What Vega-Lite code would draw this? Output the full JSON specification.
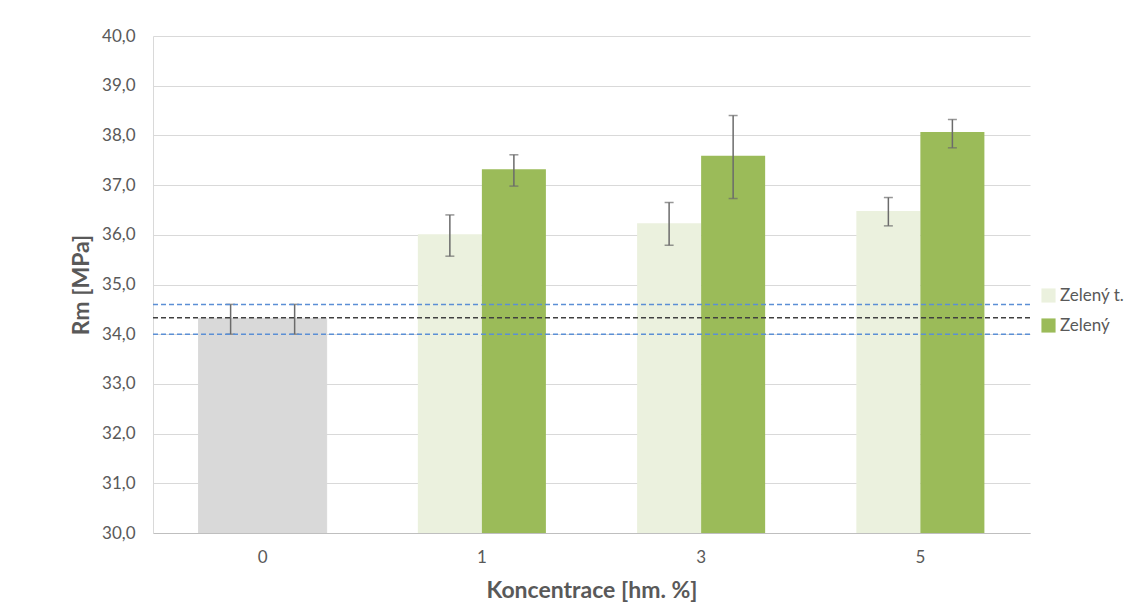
{
  "$schema": "https://vega.github.io/schema/vega-lite/v6.json",
  "width": 877,
  "height": 497,
  "autosize": {"type": "none"},
  "padding": {"left": 153, "top": 36, "right": 100, "bottom": 77},
  "background": "white",
  "config": {
    "font": "Lato",
    "view": {"stroke": null},
    "axis": {"labelColor": "#595959", "titleColor": "#595959", "labelFont": "Lato", "titleFont": "Lato", "labelFontSize": 17, "labelOverlap": false}
  },
  "datasets": {
    "bars": [
      {"k": "0", "series": "Zelený t.", "v": 34.32, "lo": 34.0, "hi": 34.6},
      {"k": "0", "series": "Zelený", "v": 34.32, "lo": 34.0, "hi": 34.6},
      {"k": "1", "series": "Zelený t.", "v": 36.01, "lo": 35.57, "hi": 36.4},
      {"k": "1", "series": "Zelený", "v": 37.32, "lo": 36.98, "hi": 37.61},
      {"k": "3", "series": "Zelený t.", "v": 36.23, "lo": 35.79, "hi": 36.65},
      {"k": "3", "series": "Zelený", "v": 37.59, "lo": 36.73, "hi": 38.4},
      {"k": "5", "series": "Zelený t.", "v": 36.48, "lo": 36.18, "hi": 36.75},
      {"k": "5", "series": "Zelený", "v": 38.07, "lo": 37.75, "hi": 38.32}
    ],
    "mean": [{"v": 34.33}],
    "band": [{"v": 34.6}, {"v": 34.0}]
  },
  "encoding": {
    "x": {
      "field": "k", "type": "nominal", "sort": ["0", "1", "3", "5"],
      "scale": {"paddingInner": 0.416, "paddingOuter": 0.208},
      "axis": {
        "title": "Koncentrace [hm. %]", "labelAngle": 0, "labelFontSize": 17, "labelPadding": 16,
        "titleFontSize": 23, "titleFontWeight": "bold", "titlePadding": 14,
        "ticks": false, "domainColor": "#BFBFBF", "domainWidth": 1, "grid": false
      }
    }
  },
  "layer": [
    {
      "data": {"name": "bars"},
      "mark": {"type": "bar", "clip": true, "strokeWidth": 1},
      "encoding": {
        "xOffset": {"field": "series", "type": "nominal", "sort": ["Zelený t.", "Zelený"], "scale": {"paddingInner": 0}},
        "y": {
          "field": "v", "type": "quantitative",
          "scale": {"domain": [30, 40], "zero": false, "nice": false},
          "axis": {
            "title": "Rm [MPa]", "values": [30,31,32,33,34,35,36,37,38,39,40],
            "labelExpr": "replace(format(datum.value, '.1f'), '.', ',')",
            "labelFontSize": 17, "labelPadding": 18, "ticks": false, "labelOverlap": false,
            "titleFontSize": 23, "titleFontWeight": "bold", "titlePadding": 8,
            "gridColor": "#D9D9D9", "gridWidth": 1, "domainColor": "#D9D9D9", "domainWidth": 1
          }
        },
        "y2": {"datum": 30},
        "stroke": {"condition": {"test": "datum.k === '0'", "value": "#D9D9D9"}, "value": null},
        "color": {
          "condition": {"test": "datum.k === '0'", "value": "#D9D9D9"},
          "field": "series", "type": "nominal",
          "scale": {"domain": ["Zelený t.", "Zelený"], "range": ["#EBF1DE", "#9BBB59"]},
          "legend": {
            "title": null, "orient": "none", "legendX": 887, "legendY": 251,
            "symbolType": "square", "symbolSize": 200, "symbolStrokeWidth": 0,
            "labelFont": "Lato", "labelFontSize": 17, "labelColor": "#595959", "rowPadding": 12, "labelOffset": 3
          }
        }
      }
    },
    {
      "data": {"name": "bars"},
      "mark": {"type": "rule", "color": "#6B6B6B", "strokeWidth": 1.5},
      "encoding": {
        "xOffset": {"field": "series", "type": "nominal", "sort": ["Zelený t.", "Zelený"]},
        "y": {"field": "lo", "type": "quantitative"},
        "y2": {"field": "hi"}
      }
    },
    {
      "data": {"name": "bars"},
      "mark": {"type": "tick", "color": "#6B6B6B", "size": 9, "thickness": 1.5},
      "encoding": {
        "xOffset": {"field": "series", "type": "nominal", "sort": ["Zelený t.", "Zelený"]},
        "y": {"field": "lo", "type": "quantitative"}
      }
    },
    {
      "data": {"name": "bars"},
      "mark": {"type": "tick", "color": "#6B6B6B", "size": 9, "thickness": 1.5},
      "encoding": {
        "xOffset": {"field": "series", "type": "nominal", "sort": ["Zelený t.", "Zelený"]},
        "y": {"field": "hi", "type": "quantitative"}
      }
    },
    {
      "data": {"name": "mean"},
      "mark": {"type": "rule", "color": "#404040", "strokeWidth": 1.5, "strokeDash": [5, 3]},
      "encoding": {"y": {"field": "v", "type": "quantitative"}, "x": {"value": 0}, "x2": {"value": 877}}
    },
    {
      "data": {"name": "band"},
      "mark": {"type": "rule", "color": "#5B8FD5", "strokeWidth": 1.5, "strokeDash": [5, 3]},
      "encoding": {"y": {"field": "v", "type": "quantitative"}, "x": {"value": 0}, "x2": {"value": 877}}
    }
  ]
}
